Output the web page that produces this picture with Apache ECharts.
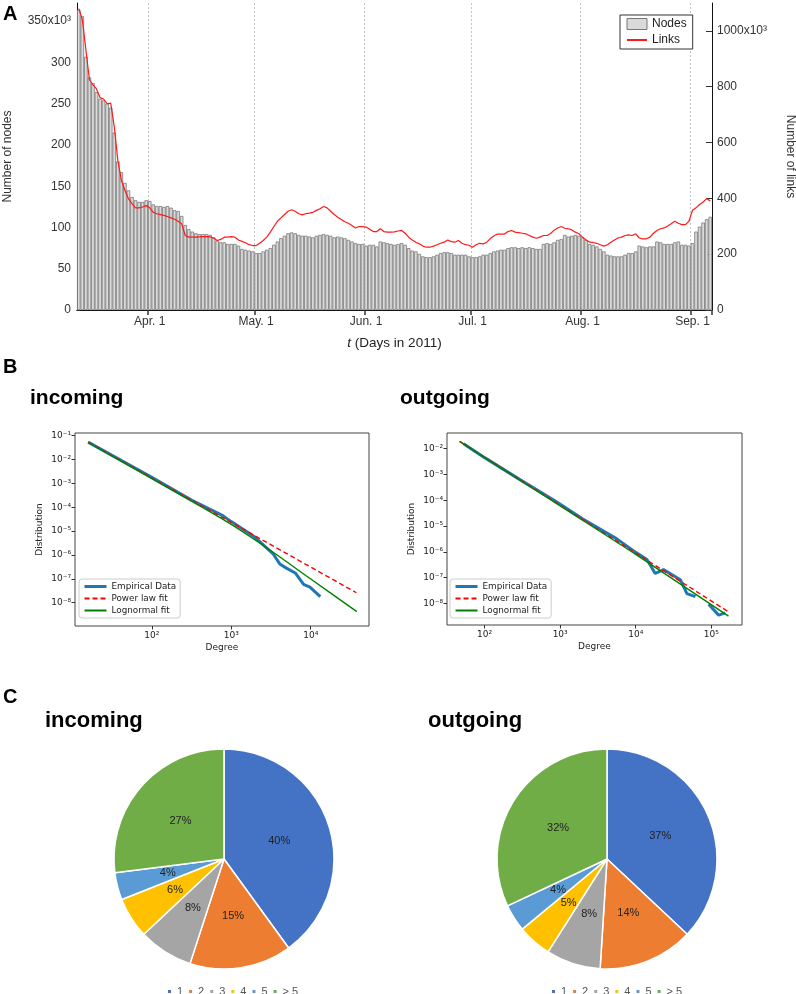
<!DOCTYPE html>
<html>
<head>
<meta charset="utf-8">
<style>
  html, body { margin: 0; padding: 0; background: #fff; }
  #main { width: 796px; height: 994px; }
</style>
<script src="https://cdn.jsdelivr.net/npm/echarts@6.0.0/dist/echarts.min.js"></script>
</head>
<body>
<div id="main"></div>
<script>
// ---- panel A: daily counts, 12 Mar .. 6 Sep 2011 (x10^3) ----
var nodes = [
  364, 356, 307, 282, 275, 264, 256, 254, 250, 245,
  215, 180, 167, 154, 145, 137, 133, 131, 131, 133,
  132, 128, 126, 126, 125, 126, 124, 121, 120, 114,
  103, 98, 95, 93, 92, 92, 92, 91, 88, 84,
  82, 82, 80, 80, 80, 78, 74, 73, 72, 71,
  69, 69, 71, 73, 75, 79, 83, 87, 90, 93,
  94, 93, 91, 90, 90, 89, 88, 90, 91, 92,
  91, 90, 88, 89, 88, 87, 85, 83, 81, 80,
  80, 78, 79, 79, 77, 83, 82, 81, 80, 79,
  80, 81, 79, 75, 72, 71, 68, 65, 64, 64,
  65, 67, 69, 70, 70, 69, 67, 67, 67, 67,
  65, 64, 64, 65, 67, 67, 69, 71, 72, 73,
  73, 75, 76, 76, 75, 76, 75, 76, 75, 74,
  74, 80, 81, 80, 82, 85, 86, 91, 89, 90,
  91, 90, 88, 85, 80, 79, 77, 74, 71, 67,
  66, 65, 65, 65, 67, 69, 69, 71, 78, 77,
  76, 77, 77, 83, 82, 80, 80, 80, 82, 83,
  79, 79, 78, 81, 95, 101, 106, 110, 113
];
var links = [
  1080, 1041, 933, 825, 807, 792, 761, 756, 739, 741,
  657, 537, 465, 429, 399, 381, 366, 366, 369, 374,
  366, 350, 345, 342, 339, 335, 330, 325, 318, 309,
  267, 261, 261, 261, 262, 263, 263, 262, 258, 249,
  253, 261, 261, 263, 261, 251, 246, 241, 234, 231,
  231, 239, 249, 261, 279, 299, 318, 330, 342, 354,
  359, 354, 345, 341, 345, 347, 350, 357, 363, 371,
  366, 354, 342, 332, 324, 316, 311, 303, 294, 299,
  299, 297, 289, 281, 281, 291, 281, 279, 279, 280,
  283, 285, 275, 261, 251, 243, 237, 229, 225, 225,
  229, 234, 239, 243, 251, 245, 243, 249, 239, 234,
  232, 225, 234, 239, 237, 243, 256, 265, 272, 272,
  272, 281, 285, 279, 277, 275, 273, 267, 261, 257,
  261, 267, 267, 274, 286, 294, 299, 293, 291, 287,
  279, 273, 261, 251, 243, 242, 239, 234, 229, 234,
  243, 251, 258, 261, 267, 269, 267, 273, 258, 255,
  255, 261, 275, 285, 291, 294, 301, 309, 318, 311,
  306, 306, 318, 357, 366, 378, 387, 399, 391
];
var monthNames = ['Jan', 'Feb', 'Mar', 'Apr', 'May', 'Jun', 'Jul', 'Aug', 'Sep', 'Oct', 'Nov', 'Dec'];

// ---- panel B: degree distributions [degree, probability] ----
var inEmpirical = [
  [15.8, 5.4e-2], [31.6, 1.5e-2], [100, 1.8e-3], [316, 2.0e-4], [760, 4.7e-5],
  [1000, 2.5e-5], [1977, 5.6e-6], [3357, 1.12e-6], [4074, 4.2e-7], [4943, 2.8e-7],
  [6457, 1.7e-7], [8128, 5.8e-8], [9772, 4.5e-8], [13180, 1.8e-8]
];
var inPowerLaw = [[15.8, 5.4e-2], [37600, 2.6e-8]];
var inLognormal = [
  [15.8, 5.2e-2], [100, 1.6e-3], [316, 1.8e-4], [1000, 1.9e-5],
  [3162, 1.5e-6], [10000, 9.8e-8], [38000, 4.2e-9]
];
var outEmpirical = [
  [52.7, 1.55e-2], [100, 4.47e-3], [316, 5.5e-4], [861, 9.3e-5], [1995, 1.86e-5],
  [5623, 3.16e-6], [10000, 9.5e-7], [14060, 5.0e-7], [18110, 1.45e-7], [23330, 2.04e-7],
  [38900, 8.3e-8], [47530, 2.4e-8], [61660, 1.82e-8]
];
var outEmpiricalTail = [[92260, 9.3e-9], [125000, 3.5e-9], [153100, 4.3e-9]];
var outPowerLaw = [[46.7, 1.9e-2], [168700, 4.7e-9]];
var outLognormal = [[46.7, 1.9e-2], [1000, 6.0e-5], [10000, 7.9e-7], [168700, 3.2e-9]];

// ---- panel C: share of nodes by degree ----
var pieNames = ['1', '2', '3', '4', '5', '> 5'];
var pieIn = [40, 15, 8, 6, 4, 27];
var pieOut = [37, 14, 8, 5, 4, 32];
var pieColors = ['#4472c4', '#ed7d31', '#a5a5a5', '#ffc000', '#5b9bd5', '#70ad47'];

var days = nodes.map(function (_, i) {
  var d = new Date(2011, 2, 12 + i);
  return (d.getMonth() + 1) + '/' + d.getDate();
});
function monthStart(idx) {
  return days[idx] && days[idx].split('/')[1] === '1';
}

var sup = { '0': '⁰', '1': '¹', '2': '²', '3': '³', '4': '⁴', '5': '⁵', '6': '⁶', '7': '⁷', '8': '⁸', '9': '⁹', '-': '⁻' };
function logLabel(v) {
  var e = Math.log10(v);
  var r = Math.round(e);
  if (Math.abs(e - r) > 0.01) return '';
  return '10' + String(r).split('').map(function (c) { return sup[c]; }).join('');
}

var mpl = 'DejaVu Sans';
var helv = 'Liberation Sans';
var noSymbol = { color: 'rgba(0,0,0,0)', borderWidth: 0, opacity: 0 };

function logAxis(grid, min, max, isX) {
  return {
    type: 'log', logBase: 10, gridIndex: grid, min: min, max: max,
    axisLine: { show: false },
    axisTick: { show: true, length: 3.5, lineStyle: { color: '#333' } },
    axisLabel: {
      formatter: logLabel, fontFamily: mpl, fontSize: 9, color: '#222',
      margin: isX ? 5 : 4, showMinLabel: false, showMaxLabel: false
    },
    splitLine: { show: false }
  };
}

function pieData(vals) {
  return pieNames.map(function (n, i) {
    return { name: n, value: vals[i], itemStyle: { color: pieColors[i] } };
  });
}

var fitLegend = {
  orient: 'vertical',
  itemWidth: 22, itemHeight: 10, itemGap: 3,
  padding: [3, 4, 3, 4],
  borderColor: '#ccc', borderWidth: 1, borderRadius: 3, backgroundColor: '#fff',
  textStyle: { fontFamily: mpl, fontSize: 8.8, color: '#222' },
  data: [
    { name: 'Empirical Data', itemStyle: noSymbol, lineStyle: { width: 3 } },
    { name: 'Power law fit', itemStyle: noSymbol },
    { name: 'Lognormal fit', itemStyle: noSymbol }
  ],
  selectedMode: false
};

var titleStyle = function (size) {
  return { fontFamily: helv, fontSize: size, fontWeight: 'bold', color: '#000' };
};

var option = {
  animation: false,
  backgroundColor: '#fff',
  textStyle: { fontFamily: helv },
  title: [
    { text: 'A', left: 3, top: 4, padding: 0, textStyle: titleStyle(20) },
    { text: 'B', left: 3, top: 357, padding: 0, textStyle: titleStyle(20) },
    { text: 'C', left: 3, top: 687, padding: 0, textStyle: titleStyle(20) },
    { text: 'incoming', left: 30, top: 388, padding: 0, textStyle: titleStyle(21) },
    { text: 'outgoing', left: 400, top: 388, padding: 0, textStyle: titleStyle(21) },
    { text: 'incoming', left: 45, top: 710, padding: 0, textStyle: titleStyle(22) },
    { text: 'outgoing', left: 428, top: 710, padding: 0, textStyle: titleStyle(22) }
  ],
  legend: [
    {
      left: 620, top: 15, orient: 'vertical',
      itemWidth: 20, itemHeight: 11, itemGap: 4,
      padding: [3, 6, 3, 6],
      borderColor: '#333', borderWidth: 1, backgroundColor: '#fff',
      textStyle: { fontFamily: helv, fontSize: 12, color: '#222' },
      selectedMode: false,
      data: [
        { name: 'Nodes', icon: 'rect', itemStyle: { color: '#dadada', borderColor: '#777', borderWidth: 1 } },
        { name: 'Links', itemStyle: noSymbol }
      ]
    },
    Object.assign({}, fitLegend, { left: 79, top: 579 }),
    Object.assign({}, fitLegend, { left: 450, top: 579 }),
    {
      left: 161, top: 981, icon: 'rect', itemWidth: 5, itemHeight: 5, itemGap: 4,
      textStyle: { fontFamily: helv, fontSize: 11, color: '#555' },
      selectedMode: false, data: pieNames
    },
    {
      left: 545, top: 981, icon: 'rect', itemWidth: 5, itemHeight: 5, itemGap: 4,
      textStyle: { fontFamily: helv, fontSize: 11, color: '#555' },
      selectedMode: false, data: pieNames
    }
  ],
  grid: [
    { left: 77, top: 3, width: 635, height: 307, outerBoundsMode: 'none', containLabel: false },
    { left: 75, top: 433, width: 294, height: 193, show: true, borderColor: '#444', borderWidth: 1, outerBoundsMode: 'none', containLabel: false },
    { left: 447, top: 433, width: 295, height: 192, show: true, borderColor: '#444', borderWidth: 1, outerBoundsMode: 'none', containLabel: false }
  ],
  xAxis: [
    {
      type: 'category', gridIndex: 0, data: days, boundaryGap: true,
      axisLine: { lineStyle: { color: '#111', width: 1 } },
      axisTick: { show: false },
      axisLabel: {
        interval: function (i) { return monthStart(i); },
        formatter: function (v) { return monthNames[+v.split('/')[0] - 1] + '. 1'; },
        fontSize: 12, color: '#333', margin: 6
      },
      splitLine: {
        show: true, interval: function (i) { return monthStart(i); },
        lineStyle: { color: '#c4c4c4', type: [2, 2], width: 1 }
      },
      name: '{it|t} (Days in 2011)', nameLocation: 'middle', nameGap: 26,
      nameTextStyle: {
        fontSize: 13.5, color: '#222',
        rich: { it: { fontStyle: 'italic', fontSize: 13.5, color: '#222' } }
      }
    },
    {
      type: 'category', gridIndex: 0, data: days, boundaryGap: true, position: 'top',
      axisLine: { lineStyle: { color: '#111', width: 1 } },
      axisTick: {
        show: true, inside: true, length: 5,
        interval: function (i) { return monthStart(i); },
        lineStyle: { color: '#333', width: 1.5 }
      },
      axisLabel: { show: false },
      splitLine: { show: false }
    },
    Object.assign(logAxis(1, 10.8, 54100, true), {
      name: 'Degree', nameLocation: 'middle', nameGap: 17,
      nameTextStyle: { fontFamily: mpl, fontSize: 9, color: '#222' }
    }),
    Object.assign(logAxis(2, 31.8, 254700, true), {
      name: 'Degree', nameLocation: 'middle', nameGap: 17,
      nameTextStyle: { fontFamily: mpl, fontSize: 9, color: '#222' }
    })
  ],
  yAxis: [
    {
      type: 'value', gridIndex: 0, min: 0, max: 372, interval: 50,
      axisLine: { show: true, lineStyle: { color: '#111', width: 1 } },
      axisTick: { show: true, inside: true, length: 3, lineStyle: { color: '#333' } },
      axisLabel: {
        fontSize: 12, color: '#333', margin: 6, showMaxLabel: false,
        formatter: function (v) {
          if (v % 50 !== 0) return '';
          return v === 350 ? '350x10³' : String(v);
        }
      },
      splitLine: { show: false },
      name: 'Number of nodes', nameLocation: 'middle', nameGap: 63,
      nameTextStyle: { fontSize: 12, color: '#333' }
    },
    {
      type: 'value', gridIndex: 0, position: 'right', min: 0, max: 1100, interval: 200,
      axisLine: { show: true, lineStyle: { color: '#111', width: 1 } },
      axisTick: { show: true, inside: true, length: 6, lineStyle: { color: '#333' } },
      axisLabel: {
        fontSize: 12, color: '#333', margin: 5, showMaxLabel: false,
        formatter: function (v) {
          if (v % 200 !== 0) return '';
          return v === 1000 ? '1000x10³' : String(v);
        }
      },
      splitLine: { show: false },
      name: 'Number of links', nameLocation: 'middle', nameGap: 72, nameRotate: -90,
      nameTextStyle: { fontSize: 12, color: '#333' }
    },
    Object.assign(logAxis(1, 1.05e-9, 0.13, false), {
      name: 'Distribution', nameLocation: 'middle', nameGap: 31,
      nameTextStyle: { fontFamily: mpl, fontSize: 9, color: '#222' }
    }),
    Object.assign(logAxis(2, 1.45e-9, 0.0403, false), {
      name: 'Distribution', nameLocation: 'middle', nameGap: 31,
      nameTextStyle: { fontFamily: mpl, fontSize: 9, color: '#222' }
    })
  ],
  series: [
    {
      name: 'Nodes', type: 'bar', xAxisIndex: 0, yAxisIndex: 0,
      data: nodes, barCategoryGap: '0%',
      itemStyle: { color: '#dadada', borderColor: '#7a7a7a', borderWidth: 0.8 },
      emphasis: { disabled: true }
    },
    {
      name: 'Links', type: 'line', xAxisIndex: 0, yAxisIndex: 1,
      data: links, symbol: 'none', smooth: false,
      lineStyle: { color: '#ff1a1a', width: 1.2 }, itemStyle: { color: '#ff1a1a' },
      emphasis: { disabled: true }
    },
    // incoming
    {
      name: 'Empirical Data', type: 'line', xAxisIndex: 2, yAxisIndex: 2, data: inEmpirical,
      symbol: 'none', lineStyle: { color: '#1f77b4', width: 3 }, itemStyle: { color: '#1f77b4' }
    },
    {
      name: 'Power law fit', type: 'line', xAxisIndex: 2, yAxisIndex: 2, data: inPowerLaw,
      symbol: 'none', lineStyle: { color: '#ff0000', width: 1.4, type: [5, 3] }, itemStyle: { color: '#ff0000' }
    },
    {
      name: 'Lognormal fit', type: 'line', xAxisIndex: 2, yAxisIndex: 2, data: inLognormal,
      symbol: 'none', smooth: 0.3, lineStyle: { color: '#008000', width: 1.4 }, itemStyle: { color: '#008000' }
    },
    // outgoing
    {
      name: 'Empirical Data', type: 'line', xAxisIndex: 3, yAxisIndex: 3, data: outEmpirical,
      symbol: 'none', lineStyle: { color: '#1f77b4', width: 3 }, itemStyle: { color: '#1f77b4' }
    },
    {
      name: 'Empirical Data', type: 'line', xAxisIndex: 3, yAxisIndex: 3, data: outEmpiricalTail,
      symbol: 'none', lineStyle: { color: '#1f77b4', width: 3 }, itemStyle: { color: '#1f77b4' }
    },
    {
      name: 'Power law fit', type: 'line', xAxisIndex: 3, yAxisIndex: 3, data: outPowerLaw,
      symbol: 'none', lineStyle: { color: '#ff0000', width: 1.4, type: [5, 3] }, itemStyle: { color: '#ff0000' }
    },
    {
      name: 'Lognormal fit', type: 'line', xAxisIndex: 3, yAxisIndex: 3, data: outLognormal,
      symbol: 'none', smooth: 0.3, lineStyle: { color: '#008000', width: 1.4 }, itemStyle: { color: '#008000' }
    },
    // pies
    {
      type: 'pie', center: [224, 859], radius: 110, startAngle: 90, clockwise: true,
      data: pieData(pieIn),
      label: { show: true, position: 'inside', formatter: '{c}%', fontSize: 11, color: '#222', fontFamily: helv },
      labelLine: { show: false },
      itemStyle: { borderColor: '#fff', borderWidth: 1.5 },
      emphasis: { disabled: true }
    },
    {
      type: 'pie', center: [607, 859], radius: 110, startAngle: 90, clockwise: true,
      data: pieData(pieOut),
      label: { show: true, position: 'inside', formatter: '{c}%', fontSize: 11, color: '#222', fontFamily: helv },
      labelLine: { show: false },
      itemStyle: { borderColor: '#fff', borderWidth: 1.5 },
      emphasis: { disabled: true }
    }
  ]
};

var myChart = echarts.init(document.getElementById('main'));
myChart.setOption(option);
</script>
</body>
</html>
